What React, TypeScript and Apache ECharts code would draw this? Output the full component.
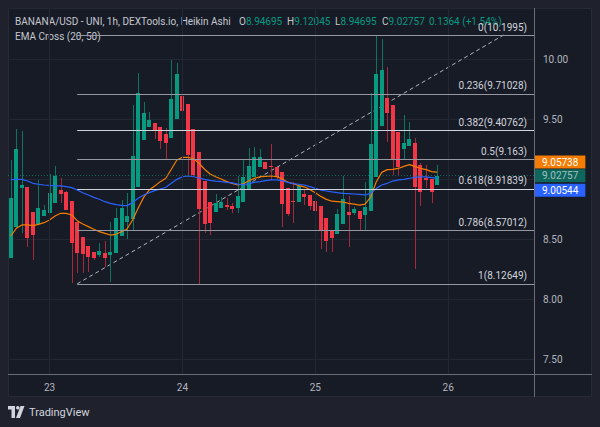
import React, { useEffect, useRef } from "react";
import * as echarts from "echarts";

const FONT = 'Roboto, "Noto Sans", sans-serif';

// ---- time slots (hourly, 22nd 17:00 onward, incl. empty space on the right)
const startDay = 22;
const startHour = 17;
const totalSlots = 95;
const categories: string[] = Array.from({ length: totalSlots }, (_, i) => {
  const h = startHour + i;
  const d = startDay + Math.floor(h / 24);
  const hh = h % 24;
  return `${d} ${String(hh).padStart(2, "0")}:00`;
});

// ---- Heikin Ashi candles
const opens = [
  8.34, 8.6, 8.925, 8.937, 8.724, 8.628, 8.693, 8.717, 8.799, 8.912,
  8.892, 8.817, 8.64, 8.513, 8.443, 8.395, 8.37, 8.385, 8.365, 8.38,
  8.526, 8.642, 8.665, 8.93, 9.325, 9.436, 9.464, 9.436, 9.377, 9.34,
  9.503, 9.689, 9.628, 9.414, 9.224, 8.986, 8.806, 8.721, 8.762, 8.786,
  8.778, 8.762, 8.811, 8.915, 9.013, 9.097, 9.139, 9.11, 9.104, 9.061,
  8.925, 8.817, 8.81, 8.876, 8.865, 8.82, 8.776, 8.672, 8.579, 8.545,
  8.626, 8.728, 8.713, 8.733, 8.698, 8.733, 9.013, 9.442, 9.674, 9.614,
  9.389, 9.246, 9.272, 9.304, 9.118, 9.006, 8.999, 8.94695,
];
const closes = [
  8.844, 9.247, 8.95, 8.511, 8.533, 8.758, 8.742, 8.881, 9.025, 8.872,
  8.742, 8.464, 8.386, 8.372, 8.347, 8.344, 8.4, 8.344, 8.394, 8.672,
  8.758, 8.689, 9.192, 9.719, 9.547, 9.492, 9.408, 9.317, 9.303, 9.667,
  9.875, 9.567, 9.2, 9.033, 8.747, 8.625, 8.636, 8.803, 8.811, 8.77,
  8.747, 8.861, 9.019, 9.111, 9.181, 9.18, 9.081, 9.097, 9.019, 8.789,
  8.708, 8.806, 8.942, 8.853, 8.775, 8.733, 8.567, 8.486, 8.511, 8.706,
  8.831, 8.697, 8.753, 8.664, 8.769, 9.292, 9.872, 9.906, 9.553, 9.164,
  9.103, 9.297, 9.336, 8.931, 8.894, 8.992, 8.889, 9.02757,
];
const lows = [
  8.34, 8.6, 8.55, 8.436, 8.325, 8.628, 8.693, 8.717, 8.799, 8.8,
  8.742, 8.133, 8.219, 8.219, 8.228, 8.325, 8.353, 8.269, 8.144, 8.38,
  8.526, 8.5, 8.57, 8.93, 9.325, 9.436, 9.33, 9.247, 9.164, 9.34,
  9.503, 9.325, 9.033, 9.02, 8.127, 8.553, 8.533, 8.721, 8.762, 8.742,
  8.72, 8.714, 8.811, 8.915, 9.013, 9.097, 9.08, 8.992, 9.0, 8.603,
  8.69, 8.631, 8.81, 8.78, 8.742, 8.694, 8.414, 8.394, 8.394, 8.545,
  8.626, 8.431, 8.7, 8.569, 8.57, 8.733, 9.013, 9.442, 9.311, 9.033,
  9.033, 9.158, 9.272, 8.247, 8.778, 8.922, 8.797, 8.94695,
];
const highs = [
  9.158, 9.414, 9.403, 8.937, 8.724, 8.992, 8.783, 9.042, 9.108, 9.011,
  8.9, 8.817, 8.64, 8.513, 8.443, 8.395, 8.469, 8.486, 8.639, 8.756,
  8.825, 8.886, 9.617, 9.88, 9.644, 9.561, 9.464, 9.436, 9.422, 9.992,
  9.964, 9.797, 9.628, 9.414, 9.224, 8.986, 8.806, 8.875, 8.85, 8.839,
  8.8, 9.025, 9.158, 9.256, 9.269, 9.25, 9.139, 9.289, 9.104, 9.061,
  8.925, 8.978, 8.95, 8.92, 8.865, 8.82, 8.776, 8.672, 8.579, 8.75,
  9.025, 8.858, 8.77, 8.733, 8.975, 9.714, 10.19, 10.167, 9.936, 9.614,
  9.389, 9.533, 9.475, 9.339, 9.133, 9.117, 8.999, 9.12045,
];

// ---- EMA Cross (20, 50)
const ema20 = [
  8.525, 8.589, 8.617, 8.617, 8.611, 8.622, 8.636, 8.658, 8.692, 8.714,
  8.714, 8.7, 8.653, 8.625, 8.603, 8.581, 8.561, 8.547, 8.533, 8.539,
  8.561, 8.583, 8.658, 8.756, 8.847, 8.908, 8.942, 8.978, 9.006, 9.081,
  9.158, 9.181, 9.181, 9.169, 9.131, 9.081, 9.042, 9.019, 9.0, 8.978,
  8.964, 8.95, 8.96, 8.985, 9.005, 9.019, 9.022, 9.025, 9.02, 9.0,
  8.975, 8.962, 8.945, 8.935, 8.912, 8.885, 8.855, 8.83, 8.815, 8.812,
  8.808, 8.797, 8.79, 8.783, 8.79, 8.85, 8.975, 9.055, 9.078, 9.08,
  9.088, 9.105, 9.12, 9.105, 9.088, 9.078, 9.062, 9.05738,
];
const ema50 = [
  8.994, 8.997, 8.997, 8.983, 8.964, 8.956, 8.95, 8.947, 8.942, 8.942,
  8.936, 8.928, 8.908, 8.886, 8.867, 8.847, 8.831, 8.811, 8.797, 8.786,
  8.781, 8.778, 8.803, 8.839, 8.867, 8.886, 8.903, 8.917, 8.931, 8.964,
  8.997, 9.019, 9.025, 9.019, 9.008, 8.997, 8.989, 8.983, 8.978, 8.972,
  8.967, 8.958, 8.952, 8.962, 8.972, 8.978, 8.986, 8.992, 8.992, 8.986,
  8.972, 8.962, 8.956, 8.95, 8.936, 8.922, 8.908, 8.9, 8.892, 8.886,
  8.881, 8.878, 8.875, 8.872, 8.867, 8.88, 8.92, 8.95, 8.964, 8.983,
  8.992, 8.997, 9.006, 9.014, 9.017, 9.017, 9.012, 9.00544,
];

// ---- Fibonacci retracement drawing
const fibRatios = ["0", "0.236", "0.382", "0.5", "0.618", "0.786", "1"];
const fibPrices = [10.1995, 9.71028, 9.40762, 9.163, 8.91839, 8.57012, 8.12649];
const fibStartSlot = 12;
const fibTopSlot = 89;

// ---- header
const symbolTitle = "BANANA/USD - UNI, 1h, DEXTools.io, Heikin Ashi";
const changeAbs = "0.1364";
const changePct = "(+1.54%)";

const UP = "#089981";
const DOWN = "#f23645";
const UP_WICK = "#0b7463";
const DOWN_WICK = "#a32a3a";
const ORANGE = "#f57c00";
const BLUE = "#2962ff";
const TEXT = "#b2b5be";
const PANEL = "#171b26";
const OUTER = "#1f222d";
const GRIDC = "#232733";
const AXISC = "#6a6d78";

export default function App() {
  const ref = useRef<HTMLDivElement>(null);
  useEffect(() => {
    document.body.style.margin = "0";
    document.body.style.background = OUTER;
    const chart = echarts.init(ref.current!, null, { renderer: "svg", width: 600, height: 427 });
    const last = closes.length - 1;
    const candleData = opens.map((o, i) => [i, o, closes[i], lows[i], highs[i]]);
    const dayTicks = categories
      .map((c, i) => (c.endsWith(" 00:00") ? i : -1))
      .filter((i) => i >= 0);
    const tagValues = [closes[last], ema20[last], ema50[last]];

    const hdr = (x: number, letter: string, val: string) => ({
      type: "text",
      x,
      y: 21,
      style: {
        text: `{l|${letter}}{v|${val}}`,
        verticalAlign: "middle",
        rich: {
          l: { fill: "#c4c7cf", fontSize: 10, fontFamily: FONT },
          v: { fill: UP, fontSize: 10, fontFamily: FONT },
        },
      },
    });

    const tag = (value: number, bg: string, dy: number, line: any) => ({
      yAxis: value,
      lineStyle: line,
      label: {
        backgroundColor: bg,
        offset: [0, dy],
        formatter: String(value),
      },
    });

    const option: any = {
      animation: false,
      backgroundColor: OUTER,
      textStyle: { fontFamily: FONT },
      grid: { left: 8, top: 8, right: 66, bottom: 53 },
      xAxis: [
        {
          type: "category",
          data: categories,
          boundaryGap: true,
          axisLine: { show: false },
          axisTick: { show: false },
          splitLine: { show: false },
          axisLabel: {
            interval: (_i: number, v: string) => v.endsWith(" 00:00"),
            formatter: (v: string) => v.split(" ")[0],
            color: TEXT,
            fontSize: 10,
            margin: 8,
            fontFamily: FONT,
          },
        },
        { type: "value", min: -0.5, max: totalSlots - 0.5, show: false },
      ],
      yAxis: {
        type: "value",
        position: "right",
        min: 7.375,
        max: 10.425,
        splitNumber: 6,
        axisLine: { show: false },
        axisTick: { show: false },
        axisLabel: {
          color: TEXT,
          fontSize: 10,
          margin: 9,
          fontFamily: FONT,
          showMinLabel: false,
          showMaxLabel: false,
          // price-scale labels covered by the last-value tags are hidden, as on the platform
          formatter: (v: number) =>
            tagValues.some((t) => Math.abs(t - v) < 0.12) ? "" : v.toFixed(2),
        },
        splitLine: { lineStyle: { color: GRIDC, width: 1 } },
      },
      graphic: [
        {
          type: "rect",
          z: -100,
          silent: true,
          shape: { x: 8.5, y: 8.5, width: 583, height: 388 },
          style: { fill: PANEL, stroke: "#262a35", lineWidth: 1 },
        },
        { type: "line", z: 50, shape: { x1: 8, y1: 374.5, x2: 592, y2: 374.5 }, style: { stroke: AXISC, lineWidth: 1 } },
        { type: "line", z: 50, shape: { x1: 534.5, y1: 8, x2: 534.5, y2: 397 }, style: { stroke: AXISC, lineWidth: 1 } },
        {
          type: "text",
          x: 15,
          y: 21,
          style: { text: symbolTitle, fill: "#c4c7cf", fontSize: 10, fontFamily: FONT, verticalAlign: "middle" },
        },
        hdr(239, "O", String(opens[last])),
        hdr(287, "H", String(highs[last])),
        hdr(335, "L", String(lows[last])),
        hdr(382, "C", String(closes[last])),
        {
          type: "text",
          x: 429,
          y: 21,
          style: { text: `${changeAbs} ${changePct}`, fill: UP, fontSize: 10, fontFamily: FONT, verticalAlign: "middle" },
        },
        {
          type: "text",
          x: 15,
          y: 36,
          style: { text: "EMA Cross (20, 50)", fill: "#c4c7cf", fontSize: 10, fontFamily: FONT, verticalAlign: "middle" },
        },
        // TradingView logo
        { type: "rect", shape: { x: 8, y: 406, width: 7, height: 3.5 }, style: { fill: "#d1d4dc" } },
        { type: "rect", shape: { x: 11.5, y: 406, width: 3.5, height: 12 }, style: { fill: "#d1d4dc" } },
        { type: "circle", shape: { cx: 17.8, cy: 407.8, r: 1.8 }, style: { fill: "#d1d4dc" } },
        { type: "polygon", shape: { points: [[20.5, 406], [24.5, 406], [20, 418], [16, 418]] }, style: { fill: "#d1d4dc" } },
        {
          type: "text",
          x: 29,
          y: 412,
          style: { text: "TradingView", fill: "#d1d4dc", fontSize: 11, fontFamily: FONT, verticalAlign: "middle" },
        },
      ],
      series: [
        {
          name: "vgrid",
          type: "line",
          xAxisIndex: 1,
          data: [],
          z: 0,
          silent: true,
          markLine: {
            silent: true,
            symbol: ["none", "none"],
            label: { show: false },
            lineStyle: { color: GRIDC, type: "solid", width: 1 },
            data: dayTicks.map((i) => ({ xAxis: i })),
          },
        },
        {
          name: "fib",
          type: "line",
          xAxisIndex: 1,
          data: [],
          z: 1,
          silent: true,
          markLine: {
            silent: true,
            symbol: ["none", "none"],
            label: {
              show: true,
              position: "insideEndTop",
              color: "#d1d4dc",
              fontSize: 10,
              fontFamily: FONT,
              distance: [7, 3],
            },
            data: fibRatios.map((r, k) => [
              {
                coord: [fibStartSlot, fibPrices[k]],
                lineStyle: {
                  color: r === "0.382" || r === "0.618" ? "#d1d4dc" : "#9598a1",
                  width: 1,
                  type: "solid",
                },
                label: { formatter: `${r}(${fibPrices[k]})` },
              },
              { coord: [totalSlots - 0.5, fibPrices[k]] },
            ]),
          },
        },
        {
          name: "trend",
          type: "line",
          xAxisIndex: 1,
          z: 1,
          silent: true,
          symbol: "none",
          data: [
            [fibStartSlot, fibPrices[fibPrices.length - 1]],
            [fibTopSlot, fibPrices[0]],
          ],
          lineStyle: { color: "#b2b5be", width: 1, type: [4, 3] },
        },
        {
          name: "HA",
          type: "custom",
          xAxisIndex: 0,
          z: 2,
          data: candleData,
          encode: { x: 0, y: [1, 2, 3, 4] },
          renderItem: (_p: any, api: any) => {
            const x = api.value(0);
            const o = api.value(1);
            const c = api.value(2);
            const l = api.value(3);
            const h = api.value(4);
            const pO = api.coord([x, o]);
            const pC = api.coord([x, c]);
            const pL = api.coord([x, l]);
            const pH = api.coord([x, h]);
            const bw = Math.max(1, Math.round(api.size([1, 0])[0] * 0.72));
            const left = Math.round(pO[0] - bw / 2);
            const up = c >= o;
            const top = Math.round(Math.min(pO[1], pC[1]));
            const bot = Math.round(Math.max(pO[1], pC[1]));
            const wx = left + Math.floor(bw / 2);
            const wt = Math.round(pH[1]);
            const wb = Math.round(pL[1]);
            return {
              type: "group",
              children: [
                {
                  type: "rect",
                  shape: { x: wx, y: wt, width: 1, height: Math.max(1, wb - wt) },
                  style: { fill: up ? UP_WICK : DOWN_WICK },
                },
                {
                  type: "rect",
                  shape: { x: left, y: top, width: bw, height: Math.max(1, bot - top) },
                  style: { fill: up ? UP : DOWN },
                },
              ],
            };
          },
        },
        {
          name: "EMA20",
          type: "line",
          xAxisIndex: 0,
          z: 3,
          data: ema20,
          symbol: "none",
          silent: true,
          lineStyle: { color: ORANGE, width: 1.2 },
        },
        {
          name: "EMA50",
          type: "line",
          xAxisIndex: 0,
          z: 3,
          data: ema50,
          symbol: "none",
          silent: true,
          lineStyle: { color: BLUE, width: 1.2 },
        },
        {
          name: "tags",
          type: "line",
          xAxisIndex: 0,
          data: [],
          z: 5,
          silent: true,
          markLine: {
            silent: true,
            symbol: ["none", "none"],
            precision: 5,
            label: {
              show: true,
              position: "end",
              distance: 1,
              color: "#ffffff",
              fontSize: 10,
              fontFamily: FONT,
              padding: [2, 7, 1, 7],
              lineHeight: 10,
            },
            data: [
              tag(closes[last], UP, 0, { color: UP, opacity: 0.6, type: [1, 2], width: 1 }),
              tag(ema20[last], ORANGE, -10, { color: "rgba(0,0,0,0)", width: 0 }),
              tag(ema50[last], BLUE, 12, { color: "rgba(0,0,0,0)", width: 0 }),
            ],
          },
        },
      ],
    };
    chart.setOption(option);
    return () => chart.dispose();
  }, []);
  return <div ref={ref} style={{ position: "absolute", left: 0, top: 0, width: 600, height: 427 }} />;
}
